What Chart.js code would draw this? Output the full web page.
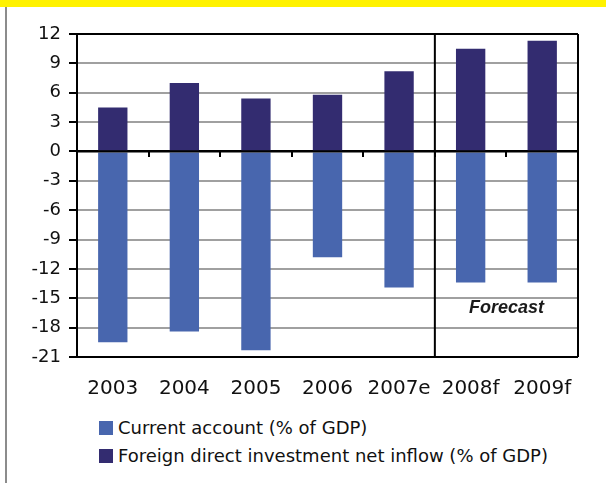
<!DOCTYPE html>
<html>
<head>
<title>Current account and FDI inflow</title>
<script src="https://cdn.jsdelivr.net/npm/chart.js@4.4.0/dist/chart.umd.min.js"></script>
<style>
    body { margin: 0; background: #fff; font-family: "DejaVu Sans", sans-serif; }
    #wrap { position: relative; width: 606px; height: 483px; overflow: hidden; }
    #topbar { position: absolute; left: 0; top: 0; width: 606px; height: 7px; background: #fff200; }
    #leftline { position: absolute; left: 5px; top: 7px; width: 2px; height: 476px; background: #8c8c8c; }
    #chartBox { position: absolute; left: 0; top: 0; width: 606px; height: 400px; }
    #legend { position: absolute; left: 99px; top: 414px; font-size: 18px; color: #111; }
    .item { height: 28px; line-height: 28px; white-space: nowrap; }
    .sw { display: inline-block; width: 14px; height: 14px; margin-right: 5px; vertical-align: -1px; }
</style>
</head>
<body>
<div id="wrap">
    <div id="chartBox"><canvas id="chart" width="606" height="400"></canvas></div>
    <div id="topbar"></div>
    <div id="leftline"></div>
    <div id="legend"></div>
</div>

<script>
const years = ['2003', '2004', '2005', '2006', '2007e', '2008f', '2009f'];
const currentAccount = [-19.5, -18.4, -20.3, -10.8, -13.9, -13.4, -13.4];
const fdiInflow = [4.5, 7.0, 5.4, 5.8, 8.2, 10.5, 11.3];
const yTicks = [12, 9, 6, 3, 0, -3, -6, -9, -12, -15, -18, -21];
const forecastStart = 5;      // index of first forecast year
const forecastLabel = 'Forecast';
const forecastLabelY = -16.0;

const seriesNames = ['Current account (% of GDP)', 'Foreign direct investment net inflow (% of GDP)'];
const seriesColors = ['#4866ae', '#332c70'];

// right border, forecast divider, zero line and the "Forecast" note
const framePlugin = {
    id: 'frame',
    afterDatasetsDraw(chart) {
        const ctx = chart.ctx;
        const a = chart.chartArea;
        const x = chart.scales.x;
        const y = chart.scales.y;
        ctx.save();
        ctx.strokeStyle = '#000';
        ctx.lineWidth = 2;
        ctx.beginPath();
        ctx.moveTo(a.left, y.getPixelForValue(0));
        ctx.lineTo(a.right, y.getPixelForValue(0));
        ctx.moveTo(a.right, a.top);
        ctx.lineTo(a.right, a.bottom);
        const divX = (x.getPixelForValue(forecastStart - 1) + x.getPixelForValue(forecastStart)) / 2;
        ctx.moveTo(divX, a.top);
        ctx.lineTo(divX, a.bottom);
        ctx.stroke();

        ctx.fillStyle = '#1a1a1a';
        ctx.font = 'italic bold 18px "Liberation Sans"';
        ctx.textAlign = 'center';
        ctx.textBaseline = 'middle';
        const fx = (x.getPixelForValue(forecastStart) + x.getPixelForValue(years.length - 1)) / 2;
        ctx.fillText(forecastLabel, fx, y.getPixelForValue(forecastLabelY));
        ctx.restore();
    }
};

function edgeValue(v) {
    return v === 0 || v === yTicks[0] || v === yTicks[yTicks.length - 1];
}

new Chart(document.getElementById('chart').getContext('2d'), {
    type: 'bar',
    data: {
        labels: years,
        datasets: [{
            label: seriesNames[0],
            data: currentAccount,
            backgroundColor: seriesColors[0],
            barPercentage: 1,
            categoryPercentage: 0.41
        }, {
            label: seriesNames[1],
            data: fdiInflow,
            backgroundColor: seriesColors[1],
            barPercentage: 1,
            categoryPercentage: 0.41
        }]
    },
    options: {
        responsive: false,
        animation: false,
        layout: { padding: { left: 0, top: 34, right: 28, bottom: 0 } },
        plugins: {
            legend: { display: false },
            tooltip: { enabled: false }
        },
        scales: {
            x: {
                stacked: true,
                grid: { display: false, drawTicks: false },
                border: { display: false },
                ticks: { color: '#111', font: { family: 'DejaVu Sans', size: 20 }, padding: 20, maxRotation: 0 },
                afterFit: s => { s.height = 43; }
            },
            xz: {
                type: 'category',
                position: { y: 0 },
                grid: { display: true, offset: true, drawOnChartArea: false, drawTicks: true,
                        tickLength: 6, tickColor: '#000', lineWidth: 2 },
                ticks: { display: false },
                border: { display: false }
            },
            y: {
                stacked: true,
                min: -21,
                max: 12,
                afterBuildTicks: s => { s.ticks = yTicks.map(v => ({ value: v })); },
                ticks: { color: '#111', font: { family: 'DejaVu Sans', size: 18 }, padding: 8 },
                grid: {
                    color: c => edgeValue(c.tick.value) ? '#000' : '#a0a0a0',
                    lineWidth: 2,
                    tickColor: '#000',
                    tickLength: 8
                },
                border: { color: '#000', width: 2 },
                afterFit: s => { s.width = 77; }
            }
        }
    },
    plugins: [framePlugin]
});

// legend, one line per series
const legend = document.getElementById('legend');
seriesNames.forEach((name, i) => {
    const row = document.createElement('div');
    row.className = 'item';
    row.innerHTML = '<span class="sw" style="background:' + seriesColors[i] + '"></span>' + name;
    legend.appendChild(row);
});
</script>
</body>
</html>
